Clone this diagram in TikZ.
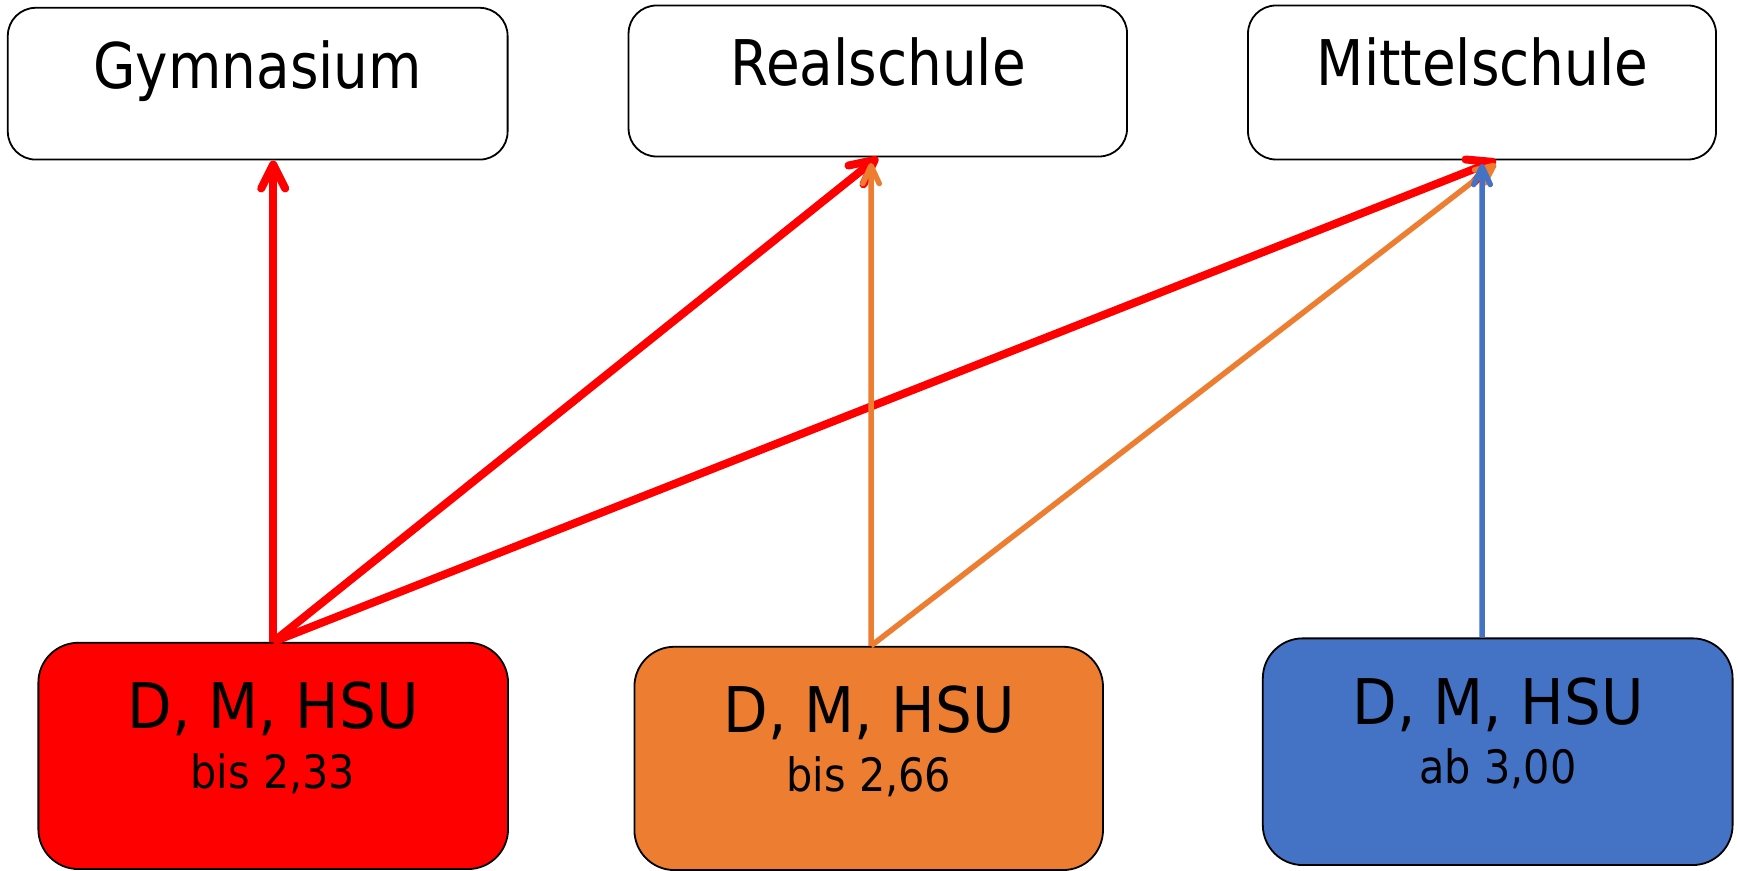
\documentclass[tikz,border=0pt]{standalone}
\usepackage{fontspec}
\setmainfont{DejaVu Sans}[FakeStretch=0.87]
\newfontfamily\widefont{DejaVu Sans}[FakeStretch=0.92]
\newfontfamily\midfont{DejaVu Sans}[FakeStretch=0.9]
\usetikzlibrary{arrows.meta}
\definecolor{cred}{HTML}{FF0000}
\definecolor{corange}{HTML}{ED7D31}
\definecolor{cblue}{HTML}{4472C4}
\tikzset{
  topbox/.style={draw=black, line width=0.9pt, fill=white, rounded corners=14pt, inner sep=0pt},
  botbox/.style={draw=black, line width=0.9pt, rounded corners=20pt, inner sep=0pt},
  bigtext/.style={anchor=base, inner sep=0pt, font=\fontsize{31.5}{36}\selectfont},
  bigwidetext/.style={anchor=base, inner sep=0pt, font=\widefont\fontsize{31.5}{36}\selectfont},
  smalltext/.style={anchor=base, inner sep=0pt, font=\midfont\fontsize{23}{27}\selectfont},
  redarrow/.style={draw=cred, line width=4pt, -{Straight Barb[length=12pt,width=12pt,round]}},
  orangearrow/.style={draw=corange, line width=2.75pt, -{Straight Barb[length=9pt,width=8.25pt,round]}},
  bluearrow/.style={draw=cblue, line width=2.75pt, -{Straight Barb[length=9pt,width=8.25pt,round]}},
}
\begin{document}
\begin{tikzpicture}[x=0.5pt,y=-0.5pt]
\useasboundingbox (0,0) rectangle (1738,871);
% top boxes
\node[topbox, minimum width=249.9pt, minimum height=75.9pt] (gym) at (257.7,83.7) {};
\node[topbox, minimum width=249.25pt, minimum height=75.5pt] (real) at (877.8,81) {};
\node[topbox, minimum width=234pt, minimum height=77pt] (mittel) at (1482,82.5) {};
\node[bigtext] (gymtext) at (257.7,89) {Gymnasium};
\node[bigtext] (realtext) at (878,86) {Realschule};
\node[bigtext] (mitteltext) at (1482.5,86) {Mittelschule};
% bottom boxes
\node[botbox, fill=cred, minimum width=234.85pt, minimum height=113.15pt] (red) at (273.2,755.9) {};
\node[botbox, fill=corange, minimum width=234.3pt, minimum height=111.65pt] (orange) at (868.7,758.4) {};
\node[botbox, fill=cblue, minimum width=234.9pt, minimum height=113.35pt] (blue) at (1497.7,751.7) {};
\node[bigwidetext] (redtext) at (273,728) {D, M, HSU};
\node[smalltext] (redsub) at (273,788) {bis 2,33};
\node[bigwidetext] (orangetext) at (869,732.5) {D, M, HSU};
\node[smalltext] (orangesub) at (869,791) {bis 2,66};
\node[bigwidetext] (bluetext) at (1498,724) {D, M, HSU};
\node[smalltext] (bluesub) at (1498,783.5) {ab 3,00};
% arrows
\draw[redarrow] (red.north) -- (gym.south -| red.north);
\draw[redarrow] (red.north) -- (real.south);
\draw[redarrow] (red.north) -- ([xshift=7pt]mittel.south);
\draw[orangearrow] ([xshift=1.15pt]orange.north) -- ([xshift=-3.4pt,yshift=-2.75pt]real.south);
\draw[orangearrow] ([xshift=1.15pt]orange.north) -- ([xshift=7pt,yshift=-1.7pt]mittel.south);
\draw[bluearrow] ([xshift=-7.85pt]blue.north) -- ([yshift=-1.7pt]mittel.south);
\end{tikzpicture}
\end{document}
